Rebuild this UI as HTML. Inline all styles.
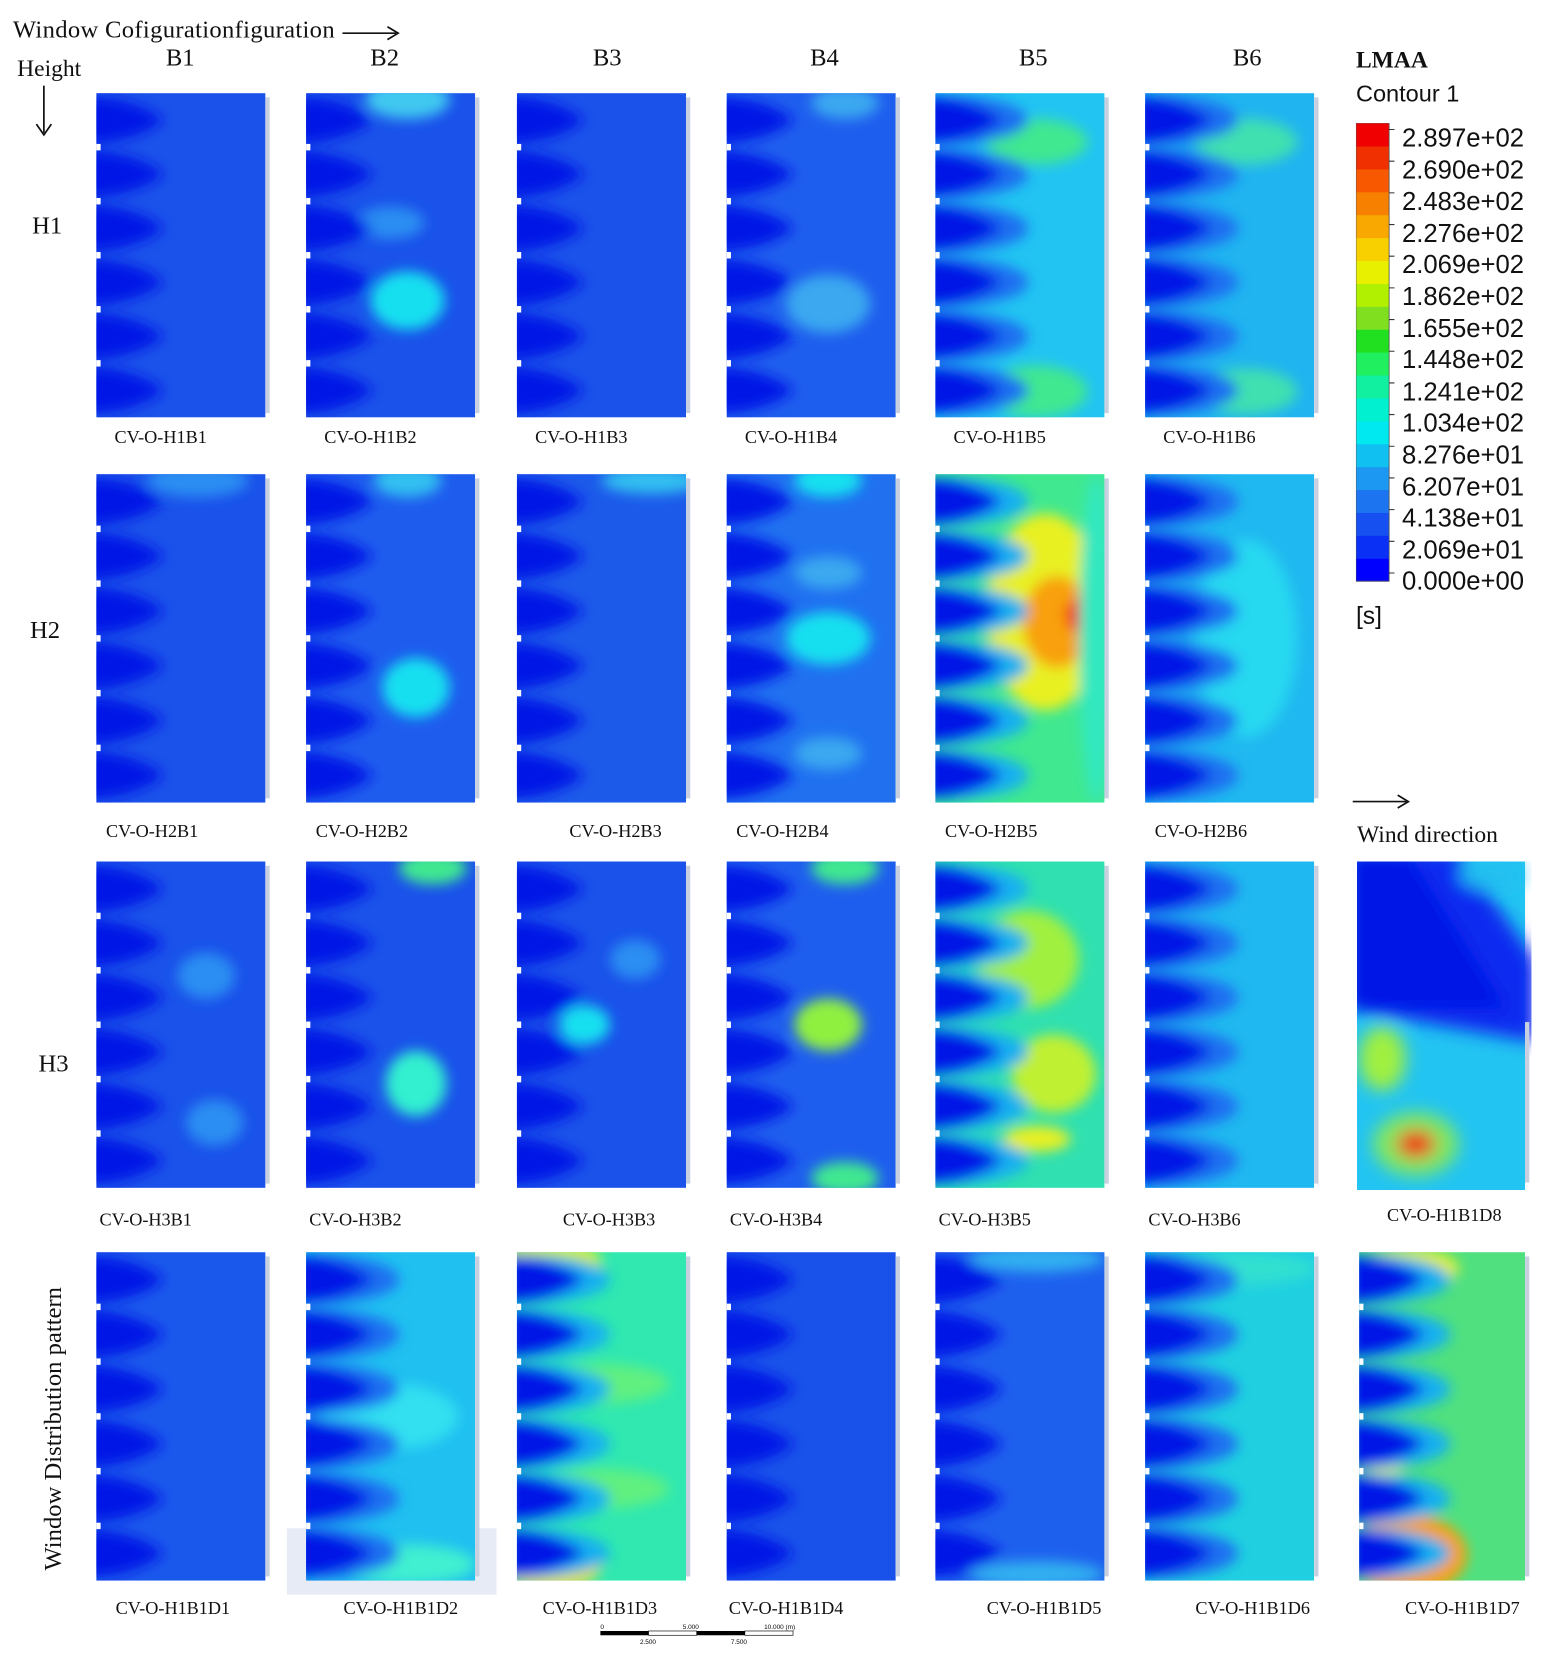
<!DOCTYPE html>
<html><head><meta charset="utf-8">
<style>
html,body{margin:0;padding:0;background:#fff;}
#wrap{position:absolute;left:0;top:0;width:1452px;height:1568px;transform:scale(1.0702);transform-origin:0 0;overflow:hidden;}
.t{position:absolute;font-family:"Liberation Serif",serif;color:#111;white-space:nowrap;}
.s{position:absolute;font-family:"Liberation Sans",sans-serif;color:#111;white-space:nowrap;}
svg{position:absolute;}
</style></head><body>
<div id="wrap">
<div class="t" style="left:12px;top:15px;font-size:23px;letter-spacing:0.3px">Window Cofigurationfiguration</div>
<svg style="left:318px;top:22px" width="60" height="20"><line x1="2" y1="9" x2="52" y2="9" stroke="#111" stroke-width="1.6"/><path d="M44 3 L54 9 L44 15" fill="none" stroke="#111" stroke-width="1.6"/></svg>
<div class="t" style="left:16px;top:51px;font-size:22px">Height</div>
<svg style="left:30px;top:78px" width="24" height="52"><line x1="11" y1="2" x2="11" y2="46" stroke="#111" stroke-width="1.6"/><path d="M4 38 L11 48 L18 38" fill="none" stroke="#111" stroke-width="1.6"/></svg>
<div class="t" style="left:155px;top:41px;font-size:23px">B1</div>
<div class="t" style="left:346px;top:41px;font-size:23px">B2</div>
<div class="t" style="left:554px;top:41px;font-size:23px">B3</div>
<div class="t" style="left:757px;top:41px;font-size:23px">B4</div>
<div class="t" style="left:952px;top:41px;font-size:23px">B5</div>
<div class="t" style="left:1152px;top:41px;font-size:23px">B6</div>
<div class="t" style="left:30px;top:198px;font-size:23px">H1</div>
<div class="t" style="left:28px;top:576px;font-size:23px">H2</div>
<div class="t" style="left:36px;top:981px;font-size:23px">H3</div>
<div class="t" style="left:-95px;top:1322px;font-size:23px;transform:rotate(-90deg);width:290px;text-align:center">Window Distribution pattern</div>

<div class="t" style="left:1267px;top:43px;font-size:22px;font-weight:bold">LMAA</div>
<div class="s" style="left:1267px;top:75px;font-size:22px">Contour 1</div>
<div id="cb"></div>
<div class="s" style="left:1267px;top:562px;font-size:23px">[s]</div>
<svg style="left:1262px;top:740px" width="60" height="20"><line x1="2" y1="9" x2="52" y2="9" stroke="#111" stroke-width="1.6"/><path d="M44 3 L54 9 L44 15" fill="none" stroke="#111" stroke-width="1.6"/></svg>
<div class="t" style="left:1268px;top:767px;font-size:22px">Wind direction</div>
<div style="position:absolute;left:268px;top:1428px;width:196px;height:62px;background:#e6ebf5"></div>
<div id="panels"></div>
<svg style="left:558px;top:1518px" width="190" height="26">
<rect x="3" y="6" width="45" height="4" fill="#000"/><rect x="48" y="6" width="45" height="4" fill="#fff" stroke="#000" stroke-width="0.6"/><rect x="93" y="6" width="45" height="4" fill="#000"/><rect x="138" y="6" width="45" height="4" fill="#fff" stroke="#000" stroke-width="0.6"/>
<text x="3" y="4" font-size="6" font-family="Liberation Sans">0</text><text x="80" y="4" font-size="6" font-family="Liberation Sans">5.000</text><text x="156" y="4" font-size="6" font-family="Liberation Sans">10.000 (m)</text>
<text x="40" y="18" font-size="6" font-family="Liberation Sans">2.500</text><text x="125" y="18" font-size="6" font-family="Liberation Sans">7.500</text></svg>
</div>
<script>
(function(){
 var cols=['#0000ff','#0a30f6','#1650f0','#1c74f0','#1c98f2','#10c0f0','#00e8f0','#00f0d0','#10f0a0','#20f060','#20e020','#80e020','#b0f000','#e8f000','#f8d000','#f8a800','#f88000','#f85800','#f03000','#f00000'];
 var s='<svg style="left:1267px;top:115px" width="40" height="432">';
 var n=cols.length,h=428/n;
 for(var i=0;i<n;i++)s+='<rect x="0" y="'+(428-(i+1)*h)+'" width="31" height="'+(h+0.5)+'" fill="'+cols[i]+'"/>';
 s+='<rect x="0" y="0" width="31" height="428" fill="none" stroke="#555" stroke-width="0.8"/>';
 for(var i=0;i<=14;i++)s+='<line x1="31" x2="36" y1="'+(6+i*29.6)+'" y2="'+(6+i*29.6)+'" stroke="#333"/>';
 s+='</svg>';
 var v=['2.897e+02','2.690e+02','2.483e+02','2.276e+02','2.069e+02','1.862e+02','1.655e+02','1.448e+02','1.241e+02','1.034e+02','8.276e+01','6.207e+01','4.138e+01','2.069e+01','0.000e+00'];
 for(var i=0;i<15;i++)s+='<div class="s" style="left:1310px;top:'+(116+i*29.6)+'px;font-size:24px">'+v[i]+'</div>';
 document.getElementById('cb').outerHTML=s;
})();
var DB='#0612e6';
var X=[90,286,483,679,874,1070,1268];
var Y=[[87,390],[443,750],[805,1110],[1170,1477]];
var uid=0;
function panel(x,y0,y1,w,bg,lobe,spots,halo,label,lx,ly){
 var h=y1-y0;uid++;
 var s='<svg style="left:'+x+'px;top:'+y0+'px" width="'+(w+6)+'" height="'+h+'"><defs><filter id="f'+uid+'" x="-50%" y="-50%" width="200%" height="200%"><feGaussianBlur stdDeviation="6"/></filter><clipPath id="c'+uid+'"><rect width="'+w+'" height="'+h+'"/></clipPath></defs><g clip-path="url(#c'+uid+')"><rect width="'+w+'" height="'+h+'" fill="'+bg+'"/><g filter="url(#f'+uid+')">';
 spots.forEach(function(p){s+='<ellipse cx="'+p[0]*w+'" cy="'+p[1]*h+'" rx="'+p[2]*w+'" ry="'+p[3]*h+'" fill="'+p[4]+'"/>';});
 if(lobe){for(var k=0;k<6;k++){var cy=(k+0.5)*h/6;
  if(halo)s+='<ellipse cx="'+0.05*w+'" cy="'+cy+'" rx="'+0.5*w+'" ry="'+h*0.075+'" fill="'+halo+'"/>';
  s+='<path d="M-10 '+(cy-h*0.07)+' Q'+(0.22*w)+' '+(cy-h*0.07)+' '+(0.4*w)+' '+cy+' Q'+(0.22*w)+' '+(cy+h*0.07)+' -10 '+(cy+h*0.07)+' Z" fill="'+lobe+'"/>';}}
 s+='</g>';
 for(var k=1;k<6;k++)s+='<rect x="0" y="'+(k*h/6-3)+'" width="4" height="6" fill="#fff"/>';
 s+='</g><rect x="'+w+'" y="4" width="4" height="'+(h-8)+'" fill="#c8d0e0"/></svg>';
 s+='<div class="t" style="left:'+lx+'px;top:'+ly+'px;font-size:17px">'+label+'</div>';
 return s;
}
var out='';
var MB='#1a52ea',LB='#2a8ef2',CY='#18e0f0',GR='#40e890',YE='#e8f020',OR='#f8a010',RD='#f02010',CYB='#22c4f2';
var cfg=[
[MB,DB,[],0],
[MB,DB,[[0.6,0.64,0.22,0.09,CY],[0.6,0.02,0.25,0.06,'#40c8f0'],[0.5,0.4,0.2,0.05,LB]],0],
[MB,DB,[],0],
['#1e5eee',DB,[[0.6,0.65,0.25,0.09,'#3aa8f0'],[0.7,0.03,0.2,0.05,'#3aa8f0']],0],
[CYB,DB,[[0.6,0.15,0.3,0.07,GR],[0.6,0.92,0.3,0.08,GR]],'#1c70f0'],
['#20b4f0',DB,[[0.6,0.15,0.3,0.07,'#40e0b0'],[0.6,0.92,0.3,0.07,'#40e0b0']],'#1c70f0'],
[MB,DB,[[0.6,0.02,0.3,0.05,LB]],0],
['#1e5cee',DB,[[0.65,0.65,0.2,0.09,CY],[0.6,0.02,0.2,0.05,'#30c0f0']],0],
['#1c5aea',DB,[[0.8,0.02,0.3,0.04,'#30c0f0']],0],
['#2070f0',DB,[[0.6,0.5,0.25,0.08,CY],[0.6,0.02,0.2,0.05,CY],[0.6,0.3,0.2,0.05,'#3aa8f0'],[0.6,0.85,0.2,0.05,'#3aa8f0']],0],
[GR,DB,[[0.65,0.42,0.35,0.3,YE],[0.72,0.45,0.2,0.14,OR],[0.85,0.43,0.08,0.05,RD],[0.95,0.5,0.1,0.5,'#30e8c0']],'#18b0f0'],
['#20b8f0',DB,[[0.6,0.5,0.3,0.3,'#28d8f0']],'#1c70f0'],
[MB,DB,[[0.65,0.35,0.17,0.07,LB],[0.7,0.8,0.17,0.07,LB]],0],
[MB,DB,[[0.75,0.02,0.2,0.05,GR],[0.65,0.68,0.18,0.1,'#30f0d0']],0],
[MB,DB,[[0.4,0.5,0.15,0.06,CY],[0.7,0.3,0.15,0.06,LB]],0],
['#1e5eee',DB,[[0.6,0.5,0.2,0.08,'#90f040'],[0.7,0.02,0.2,0.05,GR],[0.7,0.97,0.2,0.05,GR]],0],
['#30e0b0',DB,[[0.55,0.3,0.3,0.15,'#a0f040'],[0.7,0.65,0.25,0.12,'#c0f030'],[0.6,0.85,0.2,0.04,YE]],'#18b0f0'],
['#20b8f0',DB,[],'#1c70f0'],
];
for(var r=0;r<3;r++)for(var c=0;c<6;c++){var k=cfg[r*6+c];
 var lab='CV-O-H'+(r+1)+'B'+(c+1);
 var ly=[399,767,1130][r];
 out+=panel(X[c],Y[r][0],Y[r][1],158,k[0],k[1],k[2],k[3],lab,X[c]+[17,9,3][r]+(c==2&&r>0?40:0),ly);
}
out+=(function(){uid++;var x=1268,y=805,w=157,h=307;
 var s='<svg style="left:'+x+'px;top:'+y+'px" width="'+(w+6)+'" height="'+h+'"><defs><filter id="f'+uid+'"><feGaussianBlur stdDeviation="8"/></filter></defs><rect width="'+w+'" height="'+h+'" fill="'+CYB+'"/><g filter="url(#f'+uid+')">';
 s+='<polygon points="-10,-10 '+(w*0.6)+',-10 '+(w+10)+','+(h*0.3)+' '+(w+10)+','+(h*0.55)+' -10,'+(h*0.45)+'" fill="#0e2af0"/>';
 s+='<polygon points="-10,-10 '+(w*0.3)+',-10 '+(w*0.9)+','+(h*0.45)+' -10,'+(h*0.45)+'" fill="'+DB+'"/>';
 s+='<ellipse cx="'+w*0.8+'" cy="12" rx="30" ry="14" fill="#20c0f0"/>';
 s+='<ellipse cx="'+w*0.15+'" cy="'+h*0.6+'" rx="22" ry="30" fill="#a0f040"/>';
 s+='<ellipse cx="'+w*0.35+'" cy="'+h*0.86+'" rx="40" ry="30" fill="#80e860"/>';
 s+='<ellipse cx="'+w*0.35+'" cy="'+h*0.86+'" rx="18" ry="13" fill="'+RD+'"/>';
 s+='</g><rect x="'+w+'" y="150" width="4" height="150" fill="#c8d0e0"/></svg><div class="t" style="left:1296px;top:1126px;font-size:17px">CV-O-H1B1D8</div>';return s;})();
var cfg4=[
 ['#1a58ec',DB,[],0],
 ['#20c0f0',DB,[[0.5,0.5,0.4,0.1,'#30e0f0'],[0.6,0.95,0.4,0.06,'#40f0d0']],'#1c70f0'],
 ['#30e8b0',DB,[[0.2,0.03,0.3,0.07,'#d0f020'],[0.2,0.95,0.3,0.08,'#e8e020'],[0.5,0.4,0.4,0.06,'#60f080'],[0.5,0.72,0.4,0.06,'#60f080']],'#18b0f0'],
 ['#1852ea',DB,[],0],
 ['#1e60ee',DB,[[0.6,0.02,0.4,0.04,'#30b0f0'],[0.6,0.98,0.4,0.04,'#30b0f0']],0],
 ['#20d0e0',DB,[[0.5,0.05,0.5,0.05,'#30e0d0']],'#1c70f0'],
 ['#50e080',DB,[[0.25,0.95,0.25,0.08,RD],[0.3,0.92,0.35,0.12,OR],[0.3,0.05,0.3,0.06,YE],[0.15,0.62,0.15,0.06,YE]],'#18b0f0'],
];
var lx4=[108,321,507,681,922,1117,1313];
for(var c=0;c<7;c++){var k=cfg4[c];
 out+=panel(X[c]+(c==6?2:0),Y[3][0],Y[3][1],c==6?155:158,k[0],k[1],k[2],k[3],'CV-O-H1B1D'+(c+1),lx4[c],1493);
}
document.getElementById('panels').outerHTML=out;
</script>
</body></html>
